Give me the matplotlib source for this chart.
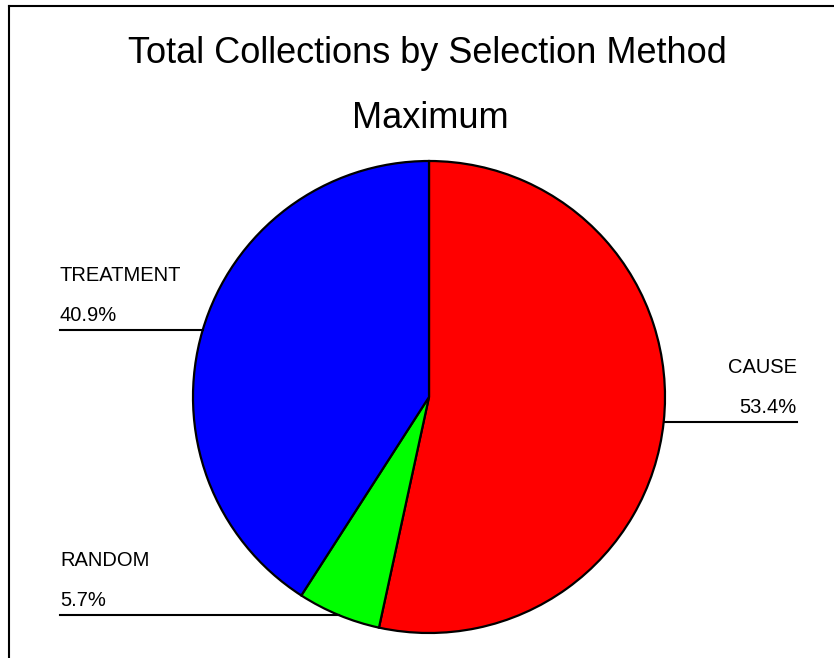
import numpy as np
import matplotlib
matplotlib.use('Agg')
import matplotlib.pyplot as plt
from matplotlib.lines import Line2D

# Selection methods and their share of total collections (%)
categorias = ['CAUSE', 'RANDOM', 'TREATMENT']
percentuais = [53.4, 5.7, 40.9]
cores = ['#ff0000', '#00ff00', '#0000ff']

titulo = 'Total Collections by Selection Method'
subtitulo = 'Maximum'

plt.rcParams['font.family'] = ['Liberation Sans', 'DejaVu Sans']

W, H = 834, 658
fig = plt.figure(figsize=(W / 100, H / 100), dpi=100)
ax = fig.add_axes([0, 0, 1, 1])

# pie geometry in pixel units (y measured from the bottom)
cx, cy, raio = 429, H - 397, 236

wedges, _ = ax.pie(percentuais, colors=cores, startangle=90, counterclock=False,
                   radius=raio, center=(cx, cy), frame=True,
                   wedgeprops=dict(edgecolor='black', linewidth=1.6))
ax.set_xlim(0, W)
ax.set_ylim(0, H)
ax.set_aspect('equal')
ax.axis('off')

# leader lines from each wedge's mid-angle out to the label column
for w, nome, pct in zip(wedges, categorias, percentuais):
    ang = np.deg2rad((w.theta1 + w.theta2) / 2)
    px = cx + raio * np.cos(ang)
    py = cy + raio * np.sin(ang)
    if px < cx:
        x_fim, ha = 60, 'left'
    else:
        x_fim, ha = 797, 'right'
    ax.plot([px, x_fim], [py, py], color='black', linewidth=1.5)
    ax.text(x_fim, py + 9, f'{pct:.1f}%', ha=ha, va='baseline', fontsize=14.5)
    ax.text(x_fim, py + 49, nome, ha=ha, va='baseline', fontsize=14.5)

ax.text(427, H - 63, titulo, ha='center', va='baseline', fontsize=26)
ax.text(430, H - 128, subtitulo, ha='center', va='baseline', fontsize=26)

# frame lines along the top and left edges
fig.add_artist(Line2D([9 / W, 1], [1 - 6 / H, 1 - 6 / H], color='black', linewidth=1.5))
fig.add_artist(Line2D([9 / W, 9 / W], [0, 1 - 6 / H], color='black', linewidth=1.5))

fig.savefig('out.png', dpi=100)
plt.close(fig)
